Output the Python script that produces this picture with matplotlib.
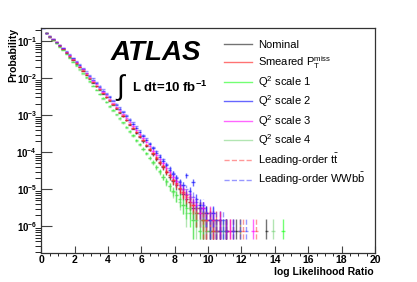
import numpy as np
import matplotlib
matplotlib.use("Agg")
import matplotlib.pyplot as plt
from matplotlib.lines import Line2D
from matplotlib.ticker import MultipleLocator, LogLocator, NullFormatter

plt.rcParams["font.family"] = ["Liberation Sans", "DejaVu Sans"]
plt.rcParams["mathtext.fontset"] = "custom"
plt.rcParams["mathtext.rm"] = "Liberation Sans"
plt.rcParams["mathtext.it"] = "Liberation Sans:italic"
plt.rcParams["mathtext.bf"] = "Liberation Sans:bold"

# histogram binning (0.2 wide bins from 0) and sample size used for errors
bin_width = 0.2
n_events = 1.3e6

# probabilities per bin, starting at the first bin (0.0-0.2)
nominal = [2.4e-1, 1.66e-1, 1.32e-1, 1.1e-1, 9.1e-2, 7.4e-2, 6.0e-2, 4.8e-2, 3.8e-2, 3.1e-2,
           2.45e-2, 1.95e-2, 1.55e-2, 1.2e-2, 9.5e-3, 7.6e-3, 6.0e-3, 4.8e-3, 3.8e-3, 3.0e-3,
           2.4e-3, 1.9e-3, 1.5e-3, 1.17e-3, 9.3e-4, 7.2e-4, 5.5e-4, 4.3e-4, 3.3e-4, 2.5e-4,
           1.95e-4, 1.48e-4, 1.15e-4, 8.7e-5, 6.6e-5, 5.1e-5, 3.9e-5, 2.9e-5, 2.2e-5, 1.7e-5,
           1.3e-5, 1.0e-5, 7.7e-6, 5.4e-6, 4.6e-6, 3.1e-6, 2.3e-6, 3.1e-6, 1.5e-6, 2.3e-6,
           7.7e-7, 1.5e-6, 0, 7.7e-7, 0, 7.7e-7, 0, 0, 7.7e-7, 0,
           0, 0, 0, 0, 0, 0, 0, 7.7e-7]
smeared = [2.35e-1, 1.65e-1, 1.33e-1, 1.1e-1, 9.2e-2, 7.5e-2, 6.1e-2, 4.9e-2, 3.9e-2, 3.15e-2,
           2.5e-2, 2.0e-2, 1.6e-2, 1.25e-2, 9.9e-3, 7.9e-3, 6.2e-3, 5.0e-3, 3.9e-3, 3.1e-3,
           2.5e-3, 1.95e-3, 1.55e-3, 1.22e-3, 9.6e-4, 7.5e-4, 5.8e-4, 4.5e-4, 3.5e-4, 2.7e-4,
           2.1e-4, 1.6e-4, 1.2e-4, 9.4e-5, 7.1e-5, 5.3e-5, 4.2e-5, 3.0e-5, 2.4e-5, 1.8e-5,
           1.5e-5, 1.1e-5, 8.5e-6, 6.9e-6, 4.6e-6, 3.8e-6, 3.1e-6, 2.3e-6, 2.3e-6, 1.5e-6,
           1.5e-6, 7.7e-7, 1.5e-6, 7.7e-7, 0, 7.7e-7, 7.7e-7, 0, 0, 7.7e-7]
q2_scale1 = [2.45e-1, 1.7e-1, 1.33e-1, 1.08e-1, 8.8e-2, 7.1e-2, 5.7e-2, 4.5e-2, 3.55e-2, 2.8e-2,
             2.2e-2, 1.72e-2, 1.35e-2, 1.04e-2, 8.1e-3, 6.3e-3, 4.9e-3, 3.8e-3, 2.95e-3, 2.3e-3,
             1.8e-3, 1.4e-3, 1.08e-3, 8.4e-4, 6.4e-4, 4.9e-4, 3.8e-4, 2.9e-4, 2.2e-4, 1.65e-4,
             1.25e-4, 9.6e-5, 7.2e-5, 5.4e-5, 4.0e-5, 3.1e-5, 2.2e-5, 1.7e-5, 1.2e-5, 9.2e-6,
             6.9e-6, 5.4e-6, 3.8e-6, 3.1e-6, 2.3e-6, 1.5e-6, 2.3e-6, 7.7e-7, 1.5e-6, 7.7e-7,
             0, 7.7e-7, 7.7e-7, 0, 0, 7.7e-7, 0, 0, 0, 0,
             0, 0, 0, 0, 0, 0, 0, 0, 0, 0, 0, 0, 7.7e-7]
q2_scale2 = [2.3e-1, 1.6e-1, 1.32e-1, 1.12e-1, 9.4e-2, 7.8e-2, 6.4e-2, 5.2e-2, 4.2e-2, 3.4e-2,
             2.75e-2, 2.2e-2, 1.77e-2, 1.4e-2, 1.12e-2, 9.0e-3, 7.2e-3, 5.8e-3, 4.6e-3, 3.7e-3,
             3.0e-3, 2.4e-3, 1.9e-3, 1.5e-3, 1.2e-3, 9.4e-4, 7.4e-4, 5.8e-4, 4.5e-4, 3.5e-4,
             2.7e-4, 2.1e-4, 1.65e-4, 1.27e-4, 9.8e-5, 7.6e-5, 5.8e-5, 4.5e-5, 3.4e-5, 2.6e-5,
             2.0e-5, 1.6e-5, 1.3e-5, 2.4e-5, 9.2e-6, 1.6e-5, 5.4e-6, 3.8e-6, 3.1e-6, 2.3e-6,
             1.5e-6, 2.3e-6, 7.7e-7, 1.5e-6, 7.7e-7, 7.7e-7, 0, 7.7e-7]
q2_scale3 = [2.4e-1, 1.68e-1, 1.35e-1, 1.13e-1, 9.5e-2, 7.8e-2, 6.4e-2, 5.2e-2, 4.15e-2, 3.35e-2,
             2.7e-2, 2.15e-2, 1.72e-2, 1.36e-2, 1.08e-2, 8.6e-3, 6.8e-3, 5.4e-3, 4.3e-3, 3.4e-3,
             2.7e-3, 2.15e-3, 1.7e-3, 1.35e-3, 1.07e-3, 8.4e-4, 6.6e-4, 5.1e-4, 4.0e-4, 3.1e-4,
             2.4e-4, 1.85e-4, 1.45e-4, 1.1e-4, 8.5e-5, 6.5e-5, 5.0e-5, 3.8e-5, 2.9e-5, 2.2e-5,
             1.7e-5, 1.3e-5, 1.0e-5, 7.7e-6, 6.2e-6, 4.6e-6, 3.8e-6, 2.3e-6, 3.1e-6, 1.5e-6,
             2.3e-6, 1.5e-6, 7.7e-7, 1.5e-6, 0, 7.7e-7, 7.7e-7, 0, 0, 0,
             0, 0, 0, 7.7e-7]
q2_scale4 = [2.45e-1, 1.68e-1, 1.31e-1, 1.07e-1, 8.7e-2, 7.0e-2, 5.6e-2, 4.45e-2, 3.5e-2, 2.75e-2,
             2.15e-2, 1.68e-2, 1.32e-2, 1.02e-2, 7.9e-3, 6.1e-3, 4.7e-3, 3.65e-3, 2.8e-3, 2.2e-3,
             1.7e-3, 1.32e-3, 1.02e-3, 7.8e-4, 6.0e-4, 4.6e-4, 3.5e-4, 2.7e-4, 2.05e-4, 1.55e-4,
             1.2e-4, 9.0e-5, 6.9e-5, 5.2e-5, 3.9e-5, 2.9e-5, 2.2e-5, 1.6e-5, 1.2e-5, 8.5e-6,
             6.9e-6, 4.6e-6, 3.8e-6, 2.3e-6, 3.1e-6, 1.5e-6, 1.5e-6, 7.7e-7, 1.5e-6, 7.7e-7,
             7.7e-7, 0, 7.7e-7, 0, 7.7e-7, 0, 0, 0, 0, 7.7e-7,
             0, 0, 0, 0, 0, 0, 0, 0, 0, 7.7e-7]
lo_ttbar = [2.35e-1, 1.64e-1, 1.32e-1, 1.11e-1, 9.2e-2, 7.6e-2, 6.2e-2, 5.0e-2, 4.0e-2, 3.2e-2,
            2.55e-2, 2.05e-2, 1.63e-2, 1.28e-2, 1.01e-2, 8.0e-3, 6.3e-3, 5.0e-3, 4.0e-3, 3.15e-3,
            2.5e-3, 2.0e-3, 1.58e-3, 1.24e-3, 9.8e-4, 7.6e-4, 5.9e-4, 4.6e-4, 3.6e-4, 2.75e-4,
            2.1e-4, 1.6e-4, 1.25e-4, 9.5e-5, 7.3e-5, 5.5e-5, 4.2e-5, 3.2e-5, 2.4e-5, 1.8e-5,
            1.4e-5, 1.1e-5, 8.1e-6, 6.2e-6, 5.4e-6, 3.8e-6, 2.3e-6, 3.1e-6, 1.5e-6, 1.5e-6,
            2.3e-6, 7.7e-7, 7.7e-7, 1.5e-6, 0, 7.7e-7, 0, 7.7e-7, 0, 0,
            7.7e-7, 0, 0, 0, 7.7e-7]
lo_wwbb = [2.3e-1, 1.62e-1, 1.33e-1, 1.13e-1, 9.6e-2, 8.0e-2, 6.6e-2, 5.4e-2, 4.4e-2, 3.55e-2,
           2.9e-2, 2.35e-2, 1.9e-2, 1.52e-2, 1.22e-2, 9.8e-3, 7.8e-3, 6.3e-3, 5.0e-3, 4.0e-3,
           3.2e-3, 2.55e-3, 2.05e-3, 1.62e-3, 1.29e-3, 1.02e-3, 8.1e-4, 6.4e-4, 5.0e-4, 3.9e-4,
           3.0e-4, 2.35e-4, 1.8e-4, 1.4e-4, 1.08e-4, 8.3e-5, 6.4e-5, 4.9e-5, 3.7e-5, 2.8e-5,
           2.2e-5, 1.7e-5, 1.3e-5, 1.0e-5, 7.7e-6, 6.2e-6, 4.6e-6, 3.1e-6, 3.8e-6, 2.3e-6,
           1.5e-6, 2.3e-6, 1.5e-6, 7.7e-7, 1.5e-6, 7.7e-7, 0, 7.7e-7, 0, 7.7e-7,
           0, 7.7e-7]

labels = ["Nominal", r"Smeared P$_{\mathrm{T}}^{\mathrm{miss}}$",
          r"Q$^{2}$ scale 1", r"Q$^{2}$ scale 2", r"Q$^{2}$ scale 3", r"Q$^{2}$ scale 4",
          r"Leading-order t$\bar{\mathrm{t}}$", r"Leading-order WWb$\bar{\mathrm{b}}$"]
series = [nominal, smeared, q2_scale1, q2_scale2, q2_scale3, q2_scale4, lo_ttbar, lo_wwbb]
colors = ["#000000", "#ff0000", "#00ff00", "#0000ff", "#ff00ff", "#66cc66", "#ff3333", "#3333ff"]
styles = ["-", "-", "-", "-", "-", "-", "--", "--"]
alphas = [0.55, 0.55, 0.55, 0.6, 0.6, 0.5, 0.5, 0.5]

fig = plt.figure(figsize=(4.17, 2.82), dpi=100)
ax = fig.add_axes([0.099, 0.104, 0.8, 0.798])

handles = []
for vals, lab, col, ls, al in zip(series, labels, colors, styles, alphas):
    p = np.array(vals)
    x = (np.arange(len(p)) + 0.5) * bin_width
    keep = p > 0
    x, p = x[keep], p[keep]
    err = np.sqrt(p / n_events)
    lower = p - np.maximum(p - err, 4.5e-7)
    eb = ax.errorbar(x, p, xerr=bin_width / 2, yerr=[lower, err], fmt="none",
                     ecolor=col, elinewidth=1.0, alpha=al, capsize=0)
    for c in eb[2]:
        c.set_linestyle(ls)
    handles.append(Line2D([], [], color=col, lw=1.0, ls=ls, alpha=al))

ax.set_yscale("log")
ax.set_xlim(0, 20)
ax.set_ylim(1.95e-7, 0.23)

ax.xaxis.set_major_locator(MultipleLocator(2))
ax.xaxis.set_minor_locator(MultipleLocator(0.5))
ax.set_yticks([1e-6, 1e-5, 1e-4, 1e-3, 1e-2, 1e-1])
ax.yaxis.set_minor_locator(LogLocator(base=10, subs=np.arange(2, 10), numticks=100))
ax.yaxis.set_minor_formatter(NullFormatter())
ax.tick_params(direction="in", top=False, right=False, width=0.8, color="#444444")
ax.tick_params(axis="y", which="major", length=8, pad=3, labelsize=7)
ax.tick_params(axis="y", which="minor", length=4)
ax.tick_params(axis="x", which="major", length=5, pad=2, labelsize=7.5)
ax.tick_params(axis="x", which="minor", length=2.5)
for lbl in ax.get_xticklabels() + ax.get_yticklabels():
    lbl.set_fontweight("bold")
for sp in ax.spines.values():
    sp.set_linewidth(0.9)
    sp.set_color("#333333")

ax.legend(handles, labels, loc="upper left", bbox_to_anchor=(0.525, 0.877),
          bbox_transform=fig.transFigure, frameon=False, fontsize=8,
          handlelength=2.5, handletextpad=0.55, labelspacing=0.32, borderpad=0)

fig.text(0.264, 0.787, "ATLAS", fontsize=20, fontweight="bold", fontstyle="italic",
         va="baseline", ha="left")
fig.text(0.29, 0.69, r"$\int$", fontsize=20, va="center", ha="center",
         family=["DejaVu Sans"])
fig.text(0.317, 0.674, r"L dt=10 fb$^{\mathbf{-1}}$", fontsize=9.5, fontweight="bold",
         va="baseline", ha="left")

fig.text(13 / 417, 1 - 28 / 282, "Probability", rotation=90, fontsize=7.5,
         fontweight="bold", ha="center", va="top")
fig.text(374 / 417, 1 - 272 / 282, "log Likelihood Ratio", fontsize=7.5,
         fontweight="bold", ha="right", va="center")

fig.savefig("out.png", dpi=100)
